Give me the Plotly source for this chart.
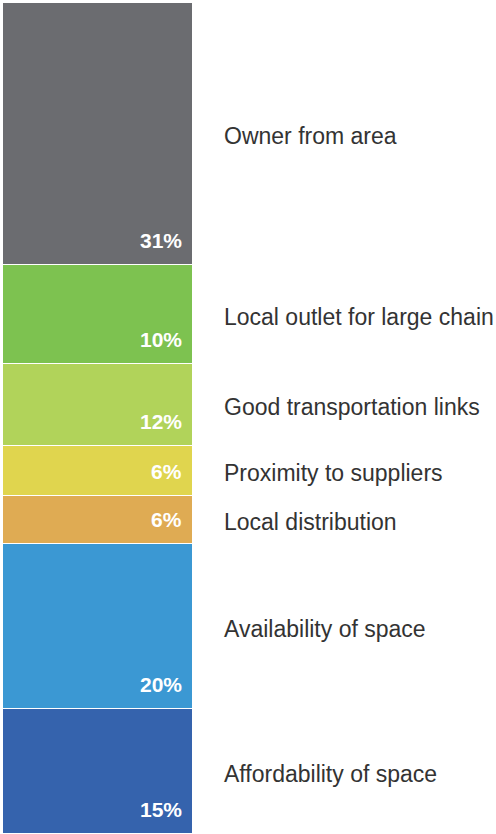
import plotly.graph_objects as go

# top to bottom as shown in the picture
reasons = ["Owner from area", "Local outlet for large chain", "Good transportation links",
           "Proximity to suppliers", "Local distribution", "Availability of space",
           "Affordability of space"]
pct_labels = ["31%", "10%", "12%", "6%", "6%", "20%", "15%"]
# segment sizes as drawn (share of the bar height)
bar_sizes = [31.3, 11.8, 9.8, 5.9, 5.8, 19.7, 14.9]
colors = ["#6b6c70", "#7dc250", "#b1d35a", "#e0d54e", "#dfab53", "#3b98d3", "#3563ad"]

W, H = 496, 834

fig = go.Figure()

# stack from the bottom up
order = list(range(len(reasons)))[::-1]
bottom = 0.0
annotations = []
for i in order:
    fig.add_trace(go.Bar(
        x=["share"], y=[bar_sizes[i]], name=reasons[i],
        marker=dict(color=colors[i], line=dict(color="white", width=1.5)),
        width=1, hoverinfo="name+text", hovertext=pct_labels[i],
    ))
    annotations.append(dict(
        x=184 / W, xref="paper", xanchor="right",
        y=bottom, yref="y", yanchor="bottom", yshift=11,
        text="<b>" + pct_labels[i] + "</b>", showarrow=False,
        font=dict(family="Liberation Sans, Arial", size=21, color="white"),
    ))
    annotations.append(dict(
        x=222 / W, xref="paper", xanchor="left",
        y=bottom + bar_sizes[i] / 2, yref="y", yanchor="middle", yshift=-2,
        text=reasons[i], showarrow=False,
        font=dict(family="Liberation Sans, Arial", size=23, color="#333333"),
    ))
    bottom += bar_sizes[i]

fig.update_layout(
    barmode="stack",
    width=W, height=H,
    margin=dict(l=0, r=0, t=0, b=0),
    paper_bgcolor="white", plot_bgcolor="white",
    showlegend=False,
    bargap=0,
    xaxis=dict(domain=[3 / W, 193 / W], range=[-0.5, 0.5], visible=False, fixedrange=True),
    yaxis=dict(domain=[0, 831 / H], range=[0, bottom], visible=False, fixedrange=True),
    annotations=annotations,
)

fig.write_html("out.html", config={"displayModeBar": False},
               post_script="document.body.style.margin='0';")
